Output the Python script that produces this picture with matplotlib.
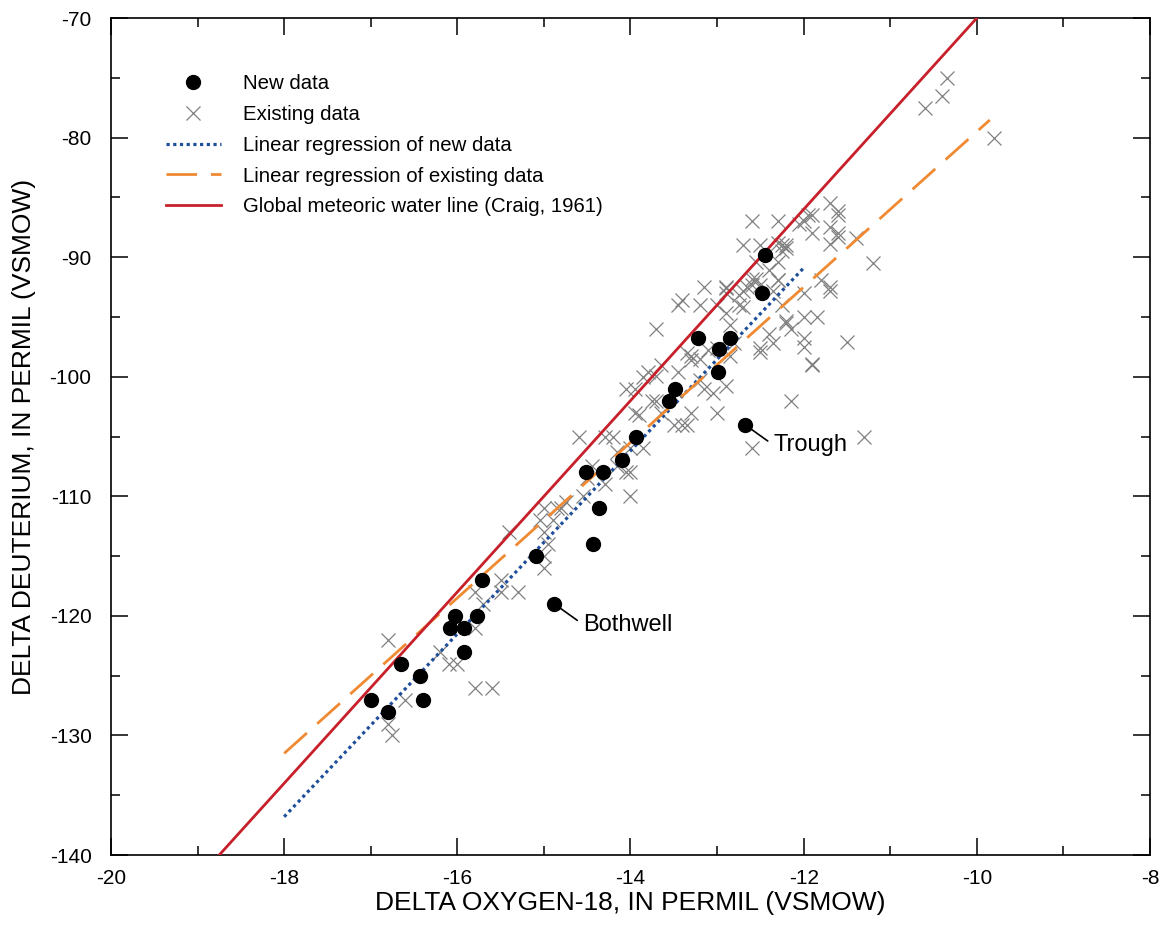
import numpy as np
import matplotlib
matplotlib.use('Agg')
import matplotlib.pyplot as plt
from matplotlib.ticker import MultipleLocator

plt.rcParams['font.family'] = ['Liberation Sans', 'DejaVu Sans']
plt.rcParams['axes.unicode_minus'] = False

# new data (black dots)
new_o18 = [-17.0, -16.8, -16.65, -16.43, -16.4, -16.09, -16.03, -15.92, -15.92, -15.77,
           -15.72, -15.09, -14.88, -14.51, -14.43, -14.36, -14.32, -14.1, -13.94, -13.56,
           -13.49, -13.22, -12.99, -12.98, -12.85, -12.68, -12.48, -12.45]
new_dd = [-127, -128, -124, -125, -127, -121, -120, -121, -123, -120,
          -117, -115, -119, -108, -114, -111, -108, -107, -105, -102,
          -101, -96.8, -99.6, -97.7, -96.8, -104, -93, -89.8]

# existing data (gray crosses)
old_o18 = [-16.8, -16.6, -16.8, -16.75, -16.2, -16.1, -16.0, -15.8, -15.6,
           -15.8, -15.8, -15.7, -15.5, -15.5, -15.3,
           -15.4, -15.0, -15.0, -15.0, -15.0, -14.95, -14.9, -14.85, -15.05, -14.8,
           -14.75, -14.55, -14.5, -14.3, -14.15, -14.0, -14.05, -14.0, -14.45,
           -14.6, -14.3, -14.2, -14.0, -13.85, -14.15,
           -13.85, -13.8, -13.7, -14.05, -13.95, -13.9, -13.75, -13.7, -13.65,
           -13.65, -13.45, -13.5, -13.35, -13.3, -13.3, -13.3, -13.35,
           -13.7, -13.45, -13.2, -13.15, -12.9, -13.0, -12.9, -12.75, -12.7, -12.75, -12.65, -12.55, -12.5,
           -12.85, -12.8, -12.85, -13.0, -13.1, -13.2,
           -13.95, -13.15, -13.2, -12.9, -13.05, -13.0, -13.4, -12.5, -13.4,
           -12.6, -12.3, -12.7, -12.5, -12.25, -12.2, -12.25, -12.3,
           -12.55, -12.3, -12.4, -12.6, -12.9, -12.9, -12.7, -12.6, -12.3, -12.35,
           -11.7, -11.6, -11.6, -11.95, -11.9, -12.0, -12.05, -11.9, -11.7, -11.6,
           -11.6, -11.4, -11.7, -11.2, -12.2,
           -11.8, -11.7, -11.7, -12.0, -12.3, -11.85, -12.0, -12.25, -12.2, -12.2,
           -12.15, -12.0, -12.0, -11.5, -11.9, -11.9, -12.4, -12.35, -12.5, -12.15,
           -11.3, -12.6,
           -10.35, -10.4, -10.6, -9.8]
old_dd = [-122, -127, -129, -130, -123, -124, -124, -126, -126,
          -118, -121, -119, -117, -118, -118,
          -113, -111, -113, -116, -115, -114, -112, -111, -112, -111,
          -110.5, -110, -108.5, -109, -107.5, -108, -108, -110, -107.5,
          -105, -105, -105, -106, -106, -106.3,
          -100, -99.6, -99.9, -101, -103, -103.2, -102, -102, -103,
          -99, -99.6, -104, -104, -103, -98.3, -98.6, -98,
          -96, -94, -94, -92.5, -92.5, -94, -94.7, -94, -94.2, -93.2, -92.5, -91.8, -92.3,
          -95.7, -97.2, -98.3, -97.6, -97.8, -98.5,
          -101, -101, -100.3, -100.8, -101.4, -103, -104, -97.6, -93.6,
          -87, -87, -89, -89, -89, -89, -89.5, -88.8,
          -90.4, -90.4, -91.1, -91.8, -92.6, -93, -92.8, -92.3, -91.9, -92.8,
          -85.5, -86.1, -86.5, -86.5, -86.5, -87, -87.2, -88, -87.5, -88,
          -88.3, -88.4, -88.9, -90.5, -89.2,
          -91.9, -92.5, -92.8, -93, -91.9, -95, -95, -94, -95.3, -95.5,
          -96, -96.8, -97.5, -97.1, -99, -98.9, -96.4, -97.2, -97.9, -102,
          -105, -106,
          -75, -76.5, -77.5, -80]

# regression lines (slope, intercept, x range) and GMWL (Craig, 1961)
new_fit = (7.65, 0.9, -18.0, -12.0)
old_fit = (6.5, -14.5, -18.0, -9.85)
gmwl = (8.0, 10.0, -20.0, -8.0)

labels = {12: 'Bothwell', 25: 'Trough'}


def fit_line(p):
    xs = np.array([p[2], p[3]])
    return xs, p[0] * xs + p[1]


fig = plt.figure(figsize=(11.61, 9.30), dpi=100)
ax = fig.add_axes([0.0956, 0.0806, 0.8949, 0.9000])

ax.plot(old_o18, old_dd, 'x', color='#808080', ms=9.5, mew=0.9, label='Existing data', zorder=2)
x, y = fit_line(new_fit)
ax.plot(x, y, color='#1f4f9a', lw=2.3, ls=(0, (1.0, 1.1)), label='Linear regression of new data', zorder=3)
x, y = fit_line(old_fit)
ax.plot(x, y, color='#f08a32', lw=2.0, ls=(0, (11, 5)), label='Linear regression of existing data', zorder=3)
x, y = fit_line(gmwl)
ax.plot(x, y, color='#c8202a', lw=2.0, label='Global meteoric water line (Craig, 1961)', zorder=3)
ax.plot(new_o18, new_dd, 'o', color='black', ms=10, label='New data', zorder=4)

for i, name in labels.items():
    ax.annotate(name, xy=(new_o18[i], new_dd[i]), xytext=(21, -15), textcoords='offset points',
                fontsize=17, ha='left', va='center',
                arrowprops=dict(arrowstyle='-', color='black', lw=1.2, shrinkA=3, shrinkB=0,
                                relpos=(0, 0.5)))

ax.set_xlim(-20, -8)
ax.set_ylim(-140, -70)
ax.xaxis.set_major_locator(MultipleLocator(2))
ax.xaxis.set_minor_locator(MultipleLocator(1))
ax.yaxis.set_major_locator(MultipleLocator(10))
ax.yaxis.set_minor_locator(MultipleLocator(5))
ax.tick_params(which='both', direction='in', top=True, right=True, width=1.1, labelsize=15)
ax.tick_params(which='major', length=12.5)
ax.tick_params(which='minor', length=6.5)
ax.tick_params(axis='x', pad=10)
ax.tick_params(axis='y', pad=14)
for s in ax.spines.values():
    s.set_linewidth(1.2)

ax.set_xlabel('DELTA OXYGEN-18, IN PERMIL (VSMOW)', fontsize=19, labelpad=2)
ax.set_ylabel('DELTA DEUTERIUM, IN PERMIL (VSMOW)', fontsize=19, labelpad=10)

h, l = ax.get_legend_handles_labels()
order = [4, 0, 1, 2, 3]
ax.legend([h[i] for i in order], [l[i] for i in order], loc='upper left',
          bbox_to_anchor=(0.035, 0.955), frameon=False, fontsize=14.7,
          handlelength=2.7, handletextpad=1.1, labelspacing=0.58)

fig.savefig('out.png', dpi=100)
